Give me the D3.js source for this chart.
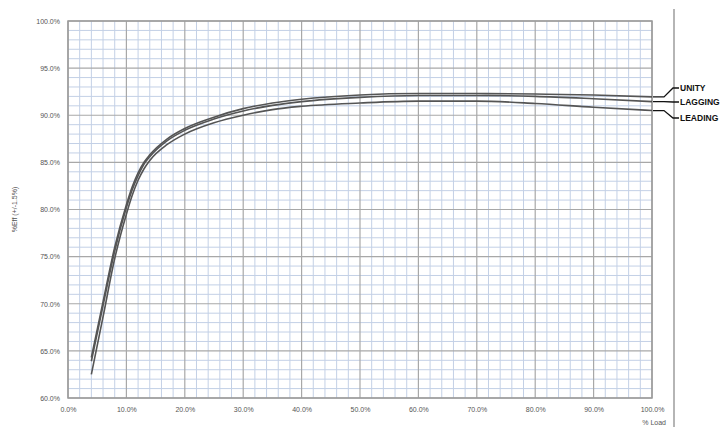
<!DOCTYPE html>
<html>
<head>
<meta charset="utf-8">
<script src="https://cdn.jsdelivr.net/npm/d3@7"></script>
<style>
  body { margin: 0; background: #fff; }
  text { font-family: "Liberation Sans", Arial, sans-serif; }
</style>
</head>
<body>
<div class="chart"></div>
<script>
var width = 723,
    height = 427;

var margin = { top: 21, left: 68, right: 71, bottom: 29 };

// load points (%) and efficiency (%)
var loads   = [4, 6, 8, 10, 11, 12, 13, 14, 17, 20, 25, 30, 35, 40, 50, 60, 70, 80, 90, 100];
var unity   = [64.3, 70.2, 76.0, 80.5, 82.4, 83.9, 85.0, 85.8, 87.5, 88.6, 89.8, 90.7, 91.3, 91.7, 92.15, 92.3, 92.3, 92.25, 92.15, 91.95];
var lagging = [63.9, 69.8, 75.6, 80.2, 82.1, 83.6, 84.8, 85.6, 87.3, 88.4, 89.6, 90.45, 91.05, 91.45, 91.9, 92.1, 92.1, 92.0, 91.75, 91.45];
var leading = [62.5, 68.6, 74.8, 79.5, 81.5, 83.1, 84.3, 85.2, 86.9, 88.0, 89.2, 90.0, 90.6, 90.95, 91.3, 91.5, 91.5, 91.25, 90.85, 90.5];

var seriesNames = ["UNITY", "LAGGING", "LEADING"];
var seriesValues = [unity, lagging, leading];

var xTicks = [0, 10, 20, 30, 40, 50, 60, 70, 80, 90, 100];
var yTicks = [60, 65, 70, 75, 80, 85, 90, 95, 100];

var svg = d3.select(".chart").append("svg")
            .attr("width", width)
            .attr("height", height);

var x = d3.scaleLinear().domain([0, 100]).range([margin.left, width - margin.right]);
var y = d3.scaleLinear().domain([60, 100]).range([height - margin.bottom, margin.top]);

// minor grid: 2% load, 1% eff
var minorX = d3.range(0, 101, 2).filter(function(d){ return d % 10 !== 0; });
var minorY = d3.range(60, 101, 1).filter(function(d){ return d % 5 !== 0; });

svg.append("g").selectAll("line")
    .data(minorX)
    .enter().append("line")
    .attr("x1", d => x(d)).attr("x2", d => x(d))
    .attr("y1", y(60)).attr("y2", y(100))
    .style("stroke", "#c3d0e6")
    .style("stroke-width", 1);

svg.append("g").selectAll("line")
    .data(minorY)
    .enter().append("line")
    .attr("y1", d => y(d)).attr("y2", d => y(d))
    .attr("x1", x(0)).attr("x2", x(100))
    .style("stroke", "#c3d0e6")
    .style("stroke-width", 1);

// major grid
svg.append("g").selectAll("line")
    .data(xTicks)
    .enter().append("line")
    .attr("x1", d => x(d)).attr("x2", d => x(d))
    .attr("y1", y(60)).attr("y2", y(100))
    .style("stroke", "#a8a8a8")
    .style("stroke-width", 1.2);

svg.append("g").selectAll("line")
    .data(yTicks)
    .enter().append("line")
    .attr("y1", d => y(d)).attr("y2", d => y(d))
    .attr("x1", x(0)).attr("x2", x(100))
    .style("stroke", "#a8a8a8")
    .style("stroke-width", 1.2);

// plot border
svg.append("rect")
    .attr("x", x(0)).attr("y", y(100))
    .attr("width", x(100) - x(0))
    .attr("height", y(60) - y(100))
    .style("fill", "none")
    .style("stroke", "#9a9a9a")
    .style("stroke-width", 1.5);

// axes
var xAxis = d3.axisBottom(x)
    .tickValues(xTicks)
    .tickSize(0)
    .tickPadding(9)
    .tickFormat(d => d.toFixed(1) + "%");

var yAxis = d3.axisLeft(y)
    .tickValues(yTicks)
    .tickSize(0)
    .tickPadding(8)
    .tickFormat(d => d.toFixed(1) + "%");

svg.append("g")
    .attr("transform", "translate(0," + y(60) + ")")
    .call(xAxis)
    .call(g => g.select(".domain").remove())
    .selectAll("text")
    .style("font-size", "7px")
    .style("fill", "#555");

svg.append("g")
    .attr("transform", "translate(" + x(0) + ",0)")
    .call(yAxis)
    .call(g => g.select(".domain").remove())
    .selectAll("text")
    .style("font-size", "7px")
    .style("fill", "#555");

svg.append("text")
    .attr("transform", "translate(17," + (y(80)) + ") rotate(-90)")
    .attr("text-anchor", "middle")
    .style("font-size", "7px")
    .style("fill", "#555")
    .text("%Eff (+/-1.5%)");

svg.append("text")
    .attr("x", x(100) + 14)
    .attr("y", height - 2)
    .attr("text-anchor", "end")
    .style("font-size", "7px")
    .style("fill", "#555")
    .text("% Load");

// frame line at right
svg.append("line")
    .attr("x1", 674).attr("x2", 674)
    .attr("y1", 9).attr("y2", height)
    .style("stroke", "#b5b5b5")
    .style("stroke-width", 2);

// curves
var line = d3.line()
    .x((d, i) => x(loads[i]))
    .y(d => y(d))
    .curve(d3.curveMonotoneX);

svg.append("g").selectAll("path")
    .data(seriesValues)
    .enter().append("path")
    .attr("d", line)
    .style("fill", "none")
    .style("stroke", "#555")
    .style("stroke-width", 1.6);

// callouts
var labelY = [88, 102, 118];
var labels = svg.append("g").selectAll("g")
    .data(seriesNames)
    .enter().append("g");

labels.append("polyline")
    .attr("points", function(d, i) {
        var endY = y(seriesValues[i][seriesValues[i].length - 1]);
        return [[x(100) + 1, endY], [x(100) + 12, endY], [673, labelY[i]], [679, labelY[i]]].join(" ");
    })
    .style("fill", "none")
    .style("stroke", "#111")
    .style("stroke-width", 1.3);

labels.append("text")
    .attr("x", 680)
    .attr("y", (d, i) => labelY[i] + 3)
    .style("font-size", "8.5px")
    .style("font-weight", "bold")
    .style("fill", "#111")
    .text(d => d);
</script>
</body>
</html>
